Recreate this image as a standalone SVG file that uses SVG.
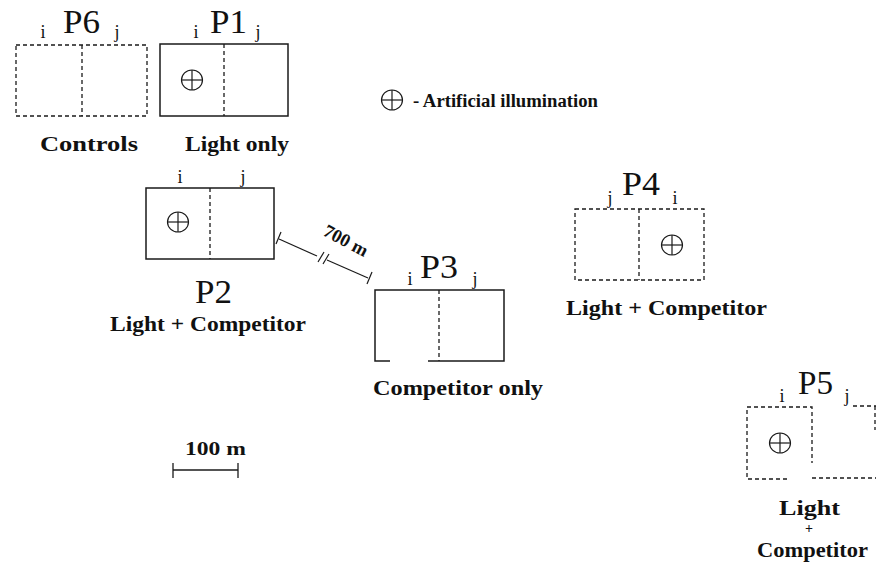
<svg xmlns="http://www.w3.org/2000/svg" xmlns:xlink="http://www.w3.org/1999/xlink" width="876" height="567" viewBox="0 0 876 567">
<style>
  .solid{fill:none;stroke:#1a1a1a;stroke-width:1.5}
  .dash{fill:none;stroke:#1a1a1a;stroke-width:1.3;stroke-dasharray:4 3}
  text{font-family:"Liberation Serif","Times New Roman",serif;fill:#111}
  .plab{font-size:33px}
  .ij{font-size:18px}
  .lab{font-size:21px;font-weight:bold}
  .leg{font-size:18.5px;font-weight:bold}
</style>
<defs>
  <g id="lamp">
    <ellipse cx="0" cy="0" rx="10.5" ry="10" fill="none" stroke="#1a1a1a" stroke-width="1.2"/>
    <line x1="-10.5" y1="0" x2="10.5" y2="0" stroke="#1a1a1a" stroke-width="1.2"/>
    <line x1="0" y1="-10" x2="0" y2="10" stroke="#1a1a1a" stroke-width="1.2"/>
  </g>
</defs>
<rect width="876" height="567" fill="#fff"/>

<g id="P6">
  <rect class="dash" x="16" y="45" width="131" height="71"/>
  <line class="dash" x1="82" y1="45" x2="82" y2="116"/>
  <text class="ij" x="43" y="38" text-anchor="middle">i</text>
  <text class="plab" x="63" y="33" textLength="37" lengthAdjust="spacingAndGlyphs">P6</text>
  <text class="ij" x="117" y="38" text-anchor="middle">j</text>
  <text class="lab" x="40" y="151" textLength="98" lengthAdjust="spacingAndGlyphs">Controls</text>
</g>

<g id="P1">
  <rect class="solid" x="160" y="44" width="128" height="72"/>
  <line class="dash" x1="224" y1="44" x2="224" y2="116"/>
  <use xlink:href="#lamp" x="192" y="80"/>
  <text class="ij" x="196" y="38" text-anchor="middle">i</text>
  <text class="plab" x="210" y="33" textLength="37" lengthAdjust="spacingAndGlyphs">P1</text>
  <text class="ij" x="258" y="38" text-anchor="middle">j</text>
  <text class="lab" x="185" y="151" textLength="104" lengthAdjust="spacingAndGlyphs">Light only</text>
</g>

<g id="legend">
  <use xlink:href="#lamp" x="392" y="100"/>
  <text class="leg" x="413" y="107" textLength="185" lengthAdjust="spacingAndGlyphs">- Artificial illumination</text>
</g>

<g id="P2">
  <rect class="solid" x="146" y="188" width="128" height="71"/>
  <line class="dash" x1="210" y1="188" x2="210" y2="259"/>
  <use xlink:href="#lamp" x="178" y="222"/>
  <text class="ij" x="180" y="183" text-anchor="middle">i</text>
  <text class="ij" x="243" y="183" text-anchor="middle">j</text>
  <text class="plab" x="195" y="303" textLength="37" lengthAdjust="spacingAndGlyphs">P2</text>
  <text class="lab" x="110" y="331" textLength="196" lengthAdjust="spacingAndGlyphs">Light + Competitor</text>
</g>

<g id="P3">
  <path class="solid" d="M390,361 H375 V290 H504 V361 H428"/>
  <line class="dash" x1="439" y1="290" x2="439" y2="361"/>
  <text class="ij" x="410" y="285" text-anchor="middle">i</text>
  <text class="plab" x="420" y="278" textLength="38" lengthAdjust="spacingAndGlyphs">P3</text>
  <text class="ij" x="475" y="285" text-anchor="middle">j</text>
  <text class="lab" x="373" y="395" textLength="170" lengthAdjust="spacingAndGlyphs">Competitor only</text>
</g>

<g id="P4">
  <rect class="dash" x="575" y="209" width="129" height="71"/>
  <line class="dash" x1="639" y1="209" x2="639" y2="280"/>
  <use xlink:href="#lamp" x="672" y="245"/>
  <text class="ij" x="610" y="204" text-anchor="middle">j</text>
  <text class="plab" x="622" y="195" textLength="38" lengthAdjust="spacingAndGlyphs">P4</text>
  <text class="ij" x="675" y="204" text-anchor="middle">i</text>
  <text class="lab" x="566" y="315" textLength="201" lengthAdjust="spacingAndGlyphs">Light + Competitor</text>
</g>

<g id="P5">
  <path class="dash" d="M787,479 H747 V407 H812 V463"/>
  <path class="dash" d="M853,406 H876 M875,406 V430 M812,478 H876"/>
  <use xlink:href="#lamp" x="780" y="443"/>
  <text class="ij" x="782" y="402" text-anchor="middle">i</text>
  <text class="plab" x="798" y="394" textLength="35" lengthAdjust="spacingAndGlyphs">P5</text>
  <text class="ij" x="847" y="402" text-anchor="middle">j</text>
  <text class="lab" x="779" y="515" textLength="61" lengthAdjust="spacingAndGlyphs">Light</text>
  <text x="809" y="533" text-anchor="middle" font-size="14" font-weight="bold">+</text>
  <text class="lab" x="757" y="557" textLength="111" lengthAdjust="spacingAndGlyphs">Competitor</text>
</g>

<g id="connectors">
  <g id="dist700" stroke="#1a1a1a" stroke-width="1.2" fill="none">
    <line x1="279" y1="239" x2="317" y2="256"/>
    <line x1="327" y1="260" x2="368" y2="278"/>
    <line x1="281" y1="232" x2="276" y2="244"/>
    <line x1="372" y1="272" x2="367" y2="284"/>
    <line x1="318" y1="262" x2="324" y2="252"/>
    <line x1="323" y1="264" x2="329" y2="254"/>
  </g>
  <text class="leg" transform="translate(343,246) rotate(28)" text-anchor="middle">700 m</text>
  <g id="scale100" stroke="#1a1a1a" stroke-width="1.3" fill="none">
    <line x1="173" y1="470" x2="238" y2="470"/>
    <line x1="173" y1="463" x2="173" y2="478"/>
    <line x1="238" y1="463" x2="238" y2="478"/>
  </g>
  <text class="leg" x="185" y="455" textLength="61" lengthAdjust="spacingAndGlyphs">100 m</text>
</g>
</svg>
